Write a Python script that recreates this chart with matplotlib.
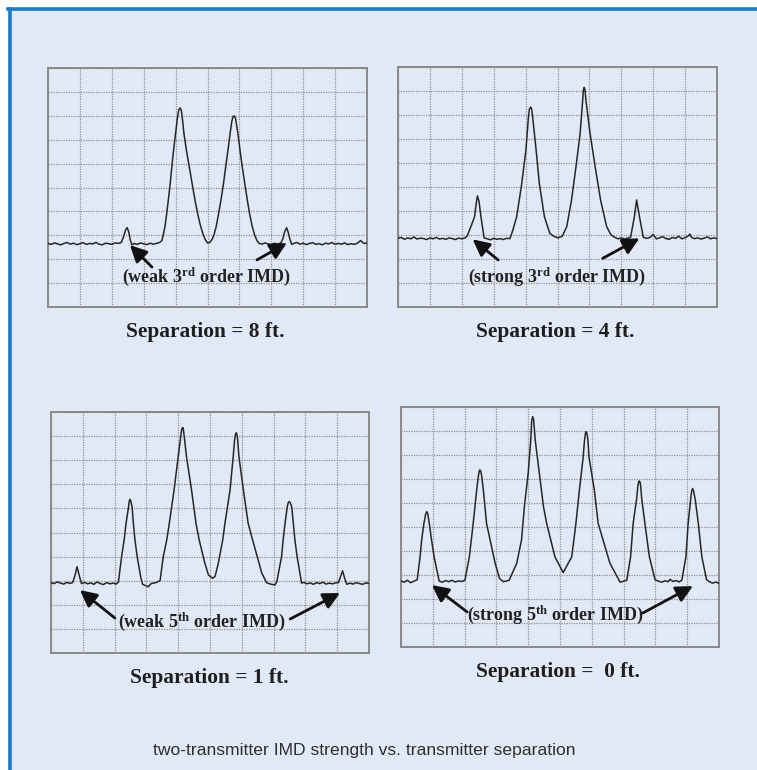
import matplotlib
matplotlib.use("Agg")
import matplotlib.pyplot as plt

# ---------------- data (grid divisions, 0..10) ----------------
x_8ft = [0.0,0.1,0.2,0.3,0.4,0.5,0.6,0.7,0.8,0.9,1.0,1.1,1.2,1.3,1.4,1.5,1.6,1.7,1.8,1.9,2.0,2.1,2.2,
         2.3,2.37,2.43,2.48,2.53,2.58,2.63,
         2.7,2.8,2.9,3.0,3.1,3.2,3.3,3.4,3.5,
         3.57,3.62,3.67,3.72,3.77,3.83,3.88,3.94,4.0,4.05,4.1,4.14,4.18,4.22,4.26,4.34,4.43,4.52,4.61,4.7,4.78,4.86,4.93,
         5.0,5.07,5.14,5.2,5.27,5.34,5.42,5.5,5.57,5.64,5.71,5.76,5.8,5.84,5.88,5.92,5.96,6.02,6.09,6.17,6.25,6.32,6.4,6.48,6.55,6.62,
         6.7,6.8,6.9,7.0,7.1,7.2,7.3,7.36,7.42,7.48,7.53,7.58,7.64,
         7.7,7.8,7.9,8.0,8.1,8.2,8.3,8.4,8.5,8.6,8.7,8.8,8.9,9.0,9.1,9.2,9.3,9.4,9.5,9.6,9.7,9.8,9.9,10.0]
y_8ft = [2.66,2.62,2.68,2.64,2.60,2.66,2.70,2.63,2.67,2.61,2.65,2.69,2.62,2.66,2.64,2.70,2.63,2.60,2.67,2.65,2.62,2.68,2.66,
         2.70,2.95,3.22,3.32,3.15,2.80,2.60,
         2.66,2.62,2.68,2.64,2.61,2.67,2.63,2.66,2.70,
         2.78,3.05,3.40,3.90,4.45,5.15,5.85,6.60,7.27,7.85,8.25,8.33,8.22,7.80,7.27,6.55,5.86,5.15,4.46,3.85,3.40,3.05,2.82,
         2.68,2.70,2.82,3.00,3.35,3.85,4.46,5.15,5.86,6.55,7.27,7.75,7.97,8.00,7.88,7.55,7.20,6.55,5.86,5.15,4.46,3.90,3.38,3.00,2.78,2.66,
         2.63,2.68,2.64,2.61,2.67,2.63,2.68,2.85,3.15,3.32,3.12,2.85,2.62,
         2.66,2.70,2.63,2.67,2.61,2.66,2.69,2.62,2.65,2.60,2.67,2.64,2.70,2.62,2.66,2.63,2.68,2.61,2.65,2.62,2.67,2.78,2.66,2.68]

x_4ft = [0.0,0.1,0.2,0.3,0.4,0.5,0.6,0.7,0.8,0.9,1.0,1.1,1.2,1.3,1.4,1.5,1.6,1.7,1.8,1.9,2.0,2.1,
         2.17,2.3,2.4,2.45,2.49,2.54,2.6,2.7,
         2.8,2.9,3.0,3.1,3.2,3.3,3.4,
         3.51,3.6,3.72,3.8,3.88,4.01,4.09,4.12,4.16,4.19,4.22,4.33,4.43,4.59,4.76,4.88,
         5.01,5.15,5.29,5.44,5.58,5.71,5.79,5.81,5.835,5.86,5.89,6.02,6.18,6.35,6.54,6.68,6.8,
         6.9,7.0,7.1,7.2,7.29,7.41,7.48,7.57,7.69,
         7.8,7.9,8.0,8.1,8.2,8.3,8.4,8.5,8.6,8.7,8.8,8.9,9.0,9.1,9.15,9.2,9.3,9.4,9.5,9.6,9.7,9.8,9.9,10.0]
y_4ft = [2.86,2.90,2.82,2.88,2.84,2.92,2.83,2.87,2.85,2.81,2.88,2.84,2.90,2.83,2.86,2.82,2.88,2.85,2.81,2.87,2.84,2.88,
         2.96,3.40,3.76,4.30,4.63,4.40,3.76,2.88,
         2.84,2.80,2.86,2.82,2.85,2.81,2.86,
         2.85,3.20,3.76,4.45,5.15,6.54,7.93,8.25,8.33,8.25,7.93,6.54,5.15,3.76,3.07,2.95,
         2.88,2.95,3.35,4.46,5.85,7.24,8.63,9.02,9.15,9.06,8.63,7.24,5.85,4.46,3.35,3.00,2.90,
         2.84,2.88,2.83,2.87,2.90,3.76,4.46,3.76,2.90,
         2.86,2.90,3.02,2.84,2.88,2.93,2.85,2.82,2.90,2.86,2.95,2.84,2.89,2.96,3.04,2.90,2.85,2.88,2.83,2.87,2.92,2.84,2.88,2.85]

x_1ft = [0.0,0.1,0.2,0.3,0.4,0.5,0.6,
         0.68,0.75,0.82,0.89,0.96,
         1.05,1.15,1.25,1.35,1.45,1.55,1.65,1.75,1.85,1.95,2.05,
         2.12,2.22,2.3,2.36,2.44,2.46,2.485,2.51,2.55,2.59,2.64,2.71,2.82,2.88,2.97,3.06,3.15,3.3,
         3.43,3.53,3.64,3.72,3.87,4.0,4.08,4.11,4.14,4.16,4.19,4.26,4.42,4.56,4.66,4.84,4.95,5.08,
         5.16,5.26,5.4,5.47,5.63,5.73,5.77,5.8,5.825,5.85,5.87,5.91,6.05,6.2,6.34,6.63,6.78,6.9,7.04,7.1,
         7.25,7.3,7.36,7.43,7.46,7.49,7.52,7.57,7.62,7.67,7.74,7.88,
         7.95,8.05,8.15,8.25,8.35,8.45,8.55,8.65,8.75,8.85,8.95,
         9.04,9.1,9.17,9.23,9.3,
         9.4,9.5,9.6,9.7,9.8,9.9,10.0]
y_1ft = [2.92,2.88,2.95,2.90,2.86,2.93,2.89,
         2.92,3.20,3.58,3.20,2.88,
         2.93,2.87,2.91,2.85,2.95,2.88,2.84,2.92,2.87,2.90,2.86,
         2.95,4.00,4.69,5.38,6.07,6.30,6.38,6.30,6.07,5.38,4.69,4.00,3.16,2.85,2.80,2.75,2.88,2.92,
         3.00,4.00,4.69,5.38,6.76,8.15,8.98,9.28,9.36,9.30,8.98,8.15,6.76,5.38,4.69,3.72,3.24,3.10,
         3.18,3.72,4.69,5.38,6.76,8.15,8.80,9.06,9.14,9.06,8.85,8.15,6.76,5.38,4.69,3.31,2.92,2.86,2.82,2.95,
         4.00,4.69,5.38,6.07,6.24,6.28,6.24,6.07,5.38,4.69,4.00,2.90,
         2.93,2.87,2.91,2.85,2.92,2.88,2.94,2.86,2.90,2.87,2.91,
         2.92,3.15,3.41,3.12,2.85,
         2.90,2.86,2.92,2.88,2.85,2.91,2.88]

x_0ft = [0.0,0.1,0.2,0.3,0.4,
         0.51,0.6,0.65,0.72,0.78,0.81,0.84,0.89,0.96,1.04,1.2,
         1.3,1.4,1.5,1.6,1.7,1.8,1.9,
         2.01,2.15,2.27,2.38,2.43,2.46,2.48,2.51,2.54,2.59,2.69,2.96,3.1,3.22,
         3.4,3.64,3.79,3.88,4.0,4.08,4.11,4.14,4.17,4.22,4.35,4.48,4.58,4.84,5.1,
         5.37,5.5,5.61,5.73,5.77,5.8,5.82,5.85,5.88,5.91,6.08,6.2,6.57,6.89,
         7.1,7.22,7.3,7.41,7.45,7.47,7.49,7.52,7.54,7.57,7.67,7.81,7.99,
         8.1,8.2,8.3,8.4,8.46,8.55,8.65,8.75,
         8.83,8.96,9.03,9.11,9.14,9.17,9.2,9.25,9.35,9.46,9.61,
         9.7,9.8,9.9,10.0]
y_0ft = [2.75,2.70,2.78,2.68,2.74,
         2.80,3.76,4.46,5.15,5.56,5.64,5.56,5.15,4.46,3.76,2.75,
         2.70,2.77,2.72,2.78,2.71,2.75,2.73,
         2.78,3.76,5.15,6.54,7.10,7.32,7.38,7.32,7.10,6.54,5.15,3.49,2.85,2.72,
         2.78,3.49,4.46,5.85,7.24,8.63,9.42,9.60,9.48,8.63,7.24,5.85,5.15,3.76,3.10,
         3.76,5.15,6.54,7.93,8.60,8.90,8.97,8.90,8.60,7.93,6.54,5.15,3.49,2.70,
         2.78,3.76,5.15,6.17,6.72,6.86,6.92,6.86,6.68,6.17,5.15,3.76,2.80,
         2.74,2.70,2.76,2.72,2.82,2.73,2.77,2.71,
         2.78,3.76,5.15,6.17,6.50,6.60,6.50,6.17,5.15,3.76,2.80,
         2.72,2.66,2.71,2.65]

separation_labels = ["Separation = 8 ft.", "Separation = 4 ft.",
                     "Separation = 1 ft.", "Separation =  0 ft."]
imd_labels = ["(weak 3$^{\\mathrm{rd}}$ order IMD)", "(strong 3$^{\\mathrm{rd}}$ order IMD)",
              "(weak 5$^{\\mathrm{th}}$ order IMD)", "(strong 5$^{\\mathrm{th}}$ order IMD)"]
caption = "two-transmitter IMD strength vs. transmitter separation"

# ---------------- styling ----------------
BG = "#e2e9f6"
BLUE = "#1a7cc6"
GRID = "#8f8f8f"
plt.rcParams['mathtext.fontset'] = 'custom'
plt.rcParams['mathtext.rm'] = 'Liberation Serif:bold'
plt.rcParams['mathtext.bf'] = 'Liberation Serif:bold'
plt.rcParams['mathtext.it'] = 'Liberation Serif:bold'

W, H = 757, 770
fig = plt.figure(figsize=(W/100, H/100), dpi=100)
fig.patch.set_facecolor("white")

# background panel with blue frame (top + left)
bg = plt.Rectangle((8/W, 0), 1 - 8/W, 1 - 8/H, transform=fig.transFigure,
                   facecolor=BG, edgecolor="none", zorder=-10)
fig.add_artist(bg)
fig.add_artist(plt.Line2D([9.5/W, 9.5/W], [0, 1 - 9/H], transform=fig.transFigure,
                          color=BLUE, lw=2.6, zorder=-5))
fig.add_artist(plt.Line2D([8/W, 1], [1 - 8.5/H, 1 - 8.5/H], transform=fig.transFigure,
                          color=BLUE, lw=2.6, zorder=-5))

# axes boxes in pixels: (left, top, right, bottom)
boxes = [(48, 68, 367, 307), (398, 67, 717, 307), (51, 412, 369, 653), (401, 407, 719, 647)]
traces = [(x_8ft, y_8ft), (x_4ft, y_4ft), (x_1ft, y_1ft), (x_0ft, y_0ft)]
label_pos = [(205, 332), (555, 332), (209, 678), (558, 672)]
text_pos = [(4.98, 1.26), (4.97, 1.26), (4.75, 1.30), (4.85, 1.33)]
arrows = [
    [((3.26, 1.67), (2.57, 2.59)), ((6.55, 1.97), (7.49, 2.68))],
    [((3.14, 1.96), (2.34, 2.82)), ((6.42, 2.03), (7.57, 2.86))],
    [((2.01, 1.45), (0.91, 2.61)), ((7.52, 1.41), (9.09, 2.49))],
    [((2.08, 1.46), (0.97, 2.58)), ((7.61, 1.42), (9.18, 2.54))],
]

for i, (l, t, r, b) in enumerate(boxes):
    ax = fig.add_axes([l/W, 1 - b/H, (r - l)/W, (b - t)/H])
    ax.set_zorder(5)
    ax.set_facecolor("none")
    ax.set_xlim(0, 10)
    ax.set_ylim(0, 10)
    ax.set_xticks(range(11))
    ax.set_yticks(range(11))
    ax.tick_params(length=0, labelbottom=False, labelleft=False)
    ax.grid(True, color=GRID, lw=0.9, linestyle=(0, (1, 1)))
    for s in ax.spines.values():
        s.set_color("#8a8a8a")
        s.set_linewidth(1.4)
        s.set_linestyle((0, (1.2, 0.7)))
    xs, ys = traces[i]
    ax.plot(xs, ys, color="#262626", lw=1.1, zorder=3)
    tx, ty = text_pos[i]
    ax.text(tx, ty, imd_labels[i], ha="center", va="center", fontsize=13,
            family="Liberation Serif", weight="bold", color="#222222", zorder=4)
    for tail, tip in arrows[i]:
        ax.annotate("", xy=tip, xytext=tail,
                    arrowprops=dict(arrowstyle="-|>,head_length=1.0,head_width=0.5",
                                    color="#111111", lw=2.0, shrinkA=0, shrinkB=0),
                    zorder=5)
    cx, cy = label_pos[i]
    fig.text(cx/W, 1 - cy/H, separation_labels[i], ha="center", va="center",
             fontsize=15.4, family="Liberation Serif", weight="bold", color="#1e1e1e")

fig.text(364/W, 1 - 750/H, caption, ha="center", va="center", fontsize=12.6,
         family="Liberation Sans", color="#2e2e2e")

fig.savefig("out.png", dpi=100, facecolor=fig.get_facecolor())
